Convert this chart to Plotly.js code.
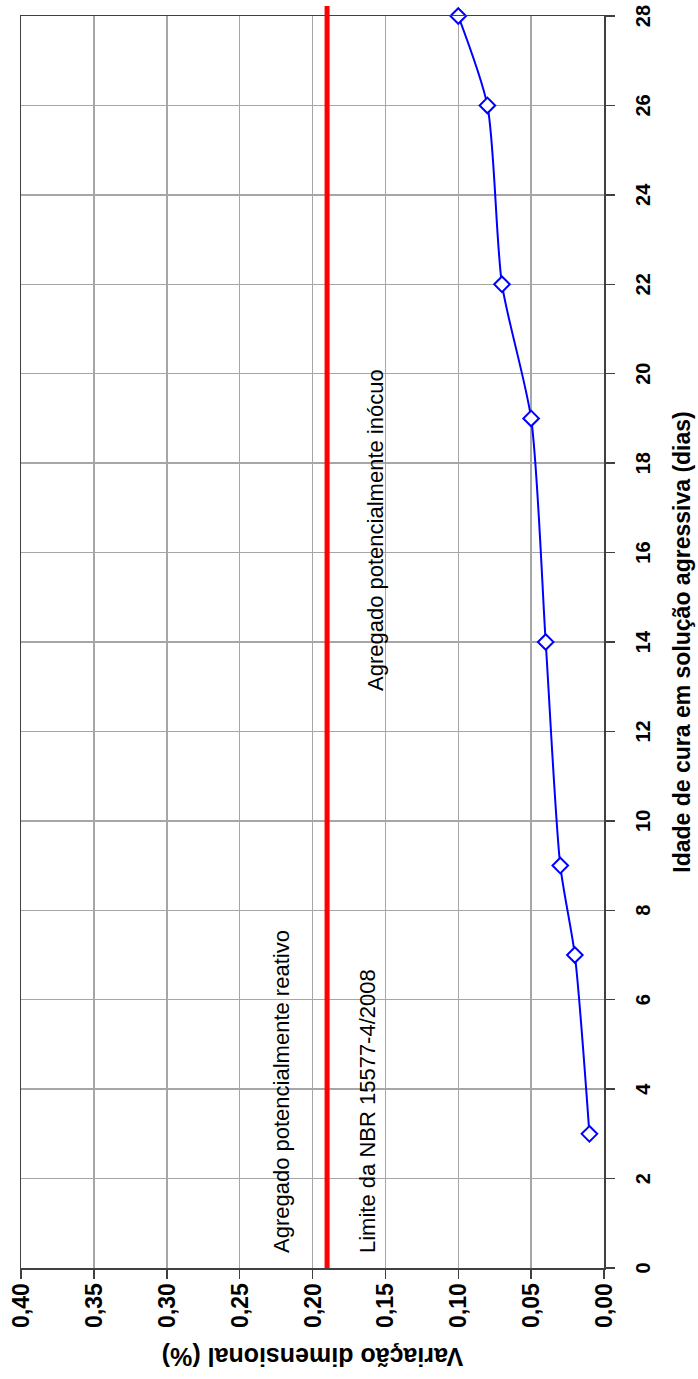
<!DOCTYPE html>
<html><head><meta charset="utf-8">
<script src="https://cdn.plot.ly/plotly-3.0.1.min.js"></script>
<style>
html,body{margin:0;padding:0;width:698px;height:1379px;overflow:hidden;background:#fff;}
#chart{position:absolute;left:0;top:0;width:1379px;height:698px;transform-origin:0 0;transform:translate(0,1379px) rotate(-90deg);}
</style></head><body><div id="chart"></div>
<script>
// Data
const days = [3, 7, 9, 14, 19, 22, 26, 28];
const variacao = [0.01, 0.02, 0.03, 0.04, 0.05, 0.07, 0.08, 0.10];
const limiteNBR = 0.19;
const dayTicks = [0, 2, 4, 6, 8, 10, 12, 14, 16, 18, 20, 22, 24, 26, 28];
const varTicks = [0.00, 0.05, 0.10, 0.15, 0.20, 0.25, 0.30, 0.35, 0.40];
const varTickLabels = ['0,00', '0,05', '0,10', '0,15', '0,20', '0,25', '0,30', '0,35', '0,40'];
const xTitle = 'Idade de cura em solução agressiva (dias)';
const yTitle = 'Variação dimensional (%)';
const labelReativo = 'Agregado potencialmente reativo';
const labelLimite = 'Limite da NBR 15577-4/2008';
const labelInocuo = 'Agregado potencialmente inócuo';

const FONT = 'Liberation Sans, Arial, sans-serif';

const traces = [{
  x: days,
  y: variacao,
  type: 'scatter',
  mode: 'lines+markers',
  line: {color: '#0000ff', width: 2, shape: 'spline', smoothing: 0.7},
  marker: {symbol: 'diamond', size: 12, color: '#ffffff', line: {color: '#0000ff', width: 2}},
  cliponaxis: false,
  showlegend: false,
  hoverinfo: 'skip'
}];

const layout = {
  width: 1379,
  height: 698,
  margin: {l: 111, r: 16, t: 21, b: 94, pad: 0},
  paper_bgcolor: '#ffffff',
  plot_bgcolor: '#ffffff',
  showlegend: false,
  font: {family: FONT, color: '#000000'},
  xaxis: {
    range: [0, 28],
    tickvals: dayTicks,
    ticktext: dayTicks.map(String),
    showgrid: true, gridcolor: '#a6a6a6', gridwidth: 1.5,
    zeroline: false,
    showline: true, linecolor: '#404040', linewidth: 1.5, mirror: true,
    ticks: 'outside', ticklen: 9, tickwidth: 1.5, tickcolor: '#404040',
    ticklabelstandoff: 11,
    tickfont: {family: FONT, size: 20, weight: 'bold', color: '#000000'},
    title: {text: xTitle, font: {family: FONT, size: 23, weight: 'bold', color: '#000000'}, standoff: 21},
    automargin: false
  },
  yaxis: {
    range: [0, 0.40],
    tickvals: varTicks,
    ticktext: varTickLabels,
    showgrid: true, gridcolor: '#a6a6a6', gridwidth: 1.5,
    zeroline: false,
    showline: true, linecolor: '#404040', linewidth: 1.5, mirror: true,
    ticks: 'outside', ticklen: 9, tickwidth: 1.5, tickcolor: '#404040',
    tickfont: {family: FONT, size: 23, weight: 'bold', color: '#000000'},
    title: {text: yTitle, font: {family: FONT, size: 25, weight: 'bold', color: '#000000'}, standoff: 12},
    automargin: false
  },
  shapes: [{
    type: 'line', layer: 'above',
    xref: 'paper', x0: 0, x1: 1.008,
    yref: 'y', y0: limiteNBR, y1: limiteNBR,
    line: {color: '#ff0000', width: 5}
  }],
  annotations: [
    {text: labelReativo, x: 0.29, y: 0.221, xref: 'x', yref: 'y', xanchor: 'left', yanchor: 'middle', showarrow: false,
     font: {family: FONT, size: 22, color: '#000000'}},
    {text: labelLimite, x: 0.29, y: 0.162, xref: 'x', yref: 'y', xanchor: 'left', yanchor: 'middle', showarrow: false,
     font: {family: FONT, size: 22, color: '#000000'}},
    {text: labelInocuo, x: 12.86, y: 0.157, xref: 'x', yref: 'y', xanchor: 'left', yanchor: 'middle', showarrow: false,
     font: {family: FONT, size: 22, color: '#000000'}}
  ]
};

Plotly.newPlot('chart', traces, layout, {staticPlot: true, displayModeBar: false});
</script>
</body></html>
